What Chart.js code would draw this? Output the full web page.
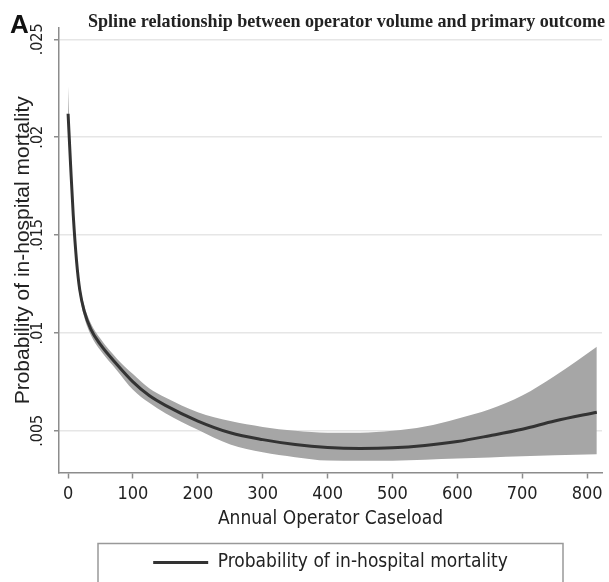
<!DOCTYPE html>
<html>
<head>
<meta charset="utf-8">
<script src="https://cdn.jsdelivr.net/npm/chart.js@4.4.1/dist/chart.umd.min.js"></script>
<style>
html, body { margin: 0; padding: 0; background: #fff; }
</style>
</head>
<body>
<canvas id="myChart" width="609" height="582"></canvas>
<script>
// spline fit
const caseload  = [0, 4, 8, 13, 18, 25, 35, 50, 75, 100, 125, 150, 200, 250, 300, 350, 400, 450, 500, 550, 600, 650, 700, 750, 815];
const mortality = [.0212, .0185, .0160, .0137, .0122, .0111, .0102, .0094, .0084, .0075, .0068, .0063, .0055, .0049, .00455, .0043, .00415, .0041, .00413, .00425, .00445, .00475, .00508, .0055, .00595];
const upperCI   = [.0226, .0192, .0165, .0141, .0125, .0114, .0105, .0097, .0087, .0079, .00717, .0067, .00595, .0055, .0052, .0050, .0049, .0049, .0050, .00522, .00562, .0061, .0068, .0078, .0093];
const lowerCI   = [.0203, .0179, .0156, .0133, .0119, .0108, .0099, .0091, .0081, .0071, .00643, .0059, .00505, .0043, .0039, .00365, .00348, .00347, .00347, .00352, .00358, .00364, .0037, .00375, .0038];
const xTicks = [0, 100, 200, 300, 400, 500, 600, 700, 800];
const yTicks = [.005, .01, .015, .02, .025];

const titleText = 'Spline relationship between operator volume and primary outcome';
const narrow = "'Liberation Sans Narrow', 'DejaVu Sans Condensed', 'Liberation Sans', sans-serif";

function pts(ys) {
    return caseload.map((x, i) => ({x: x, y: ys[i]}));
}

const decor = {
    id: 'decor',
    afterDraw(chart) {
        const ctx = chart.ctx;
        const lg = chart.legend;
        ctx.save();
        ctx.strokeStyle = '#999';
        ctx.lineWidth = 1.5;
        ctx.strokeRect(lg.left + 39, lg.top - 2, lg.width - 78, lg.height + 12);
        ctx.fillStyle = '#111';
        ctx.textBaseline = 'alphabetic';
        ctx.font = "bold 26px 'Liberation Sans', Arial, sans-serif";
        ctx.fillText('A', 10, 33);
        ctx.fillStyle = '#222';
        ctx.font = "bold 19px 'Liberation Serif', serif";
        ctx.textAlign = 'right';
        ctx.fillText(titleText, 605, 27, 517);
        ctx.restore();
    }
};

const ctx = document.getElementById('myChart').getContext('2d');
const myChart = new Chart(ctx, {
    type: 'line',
    data: {
        datasets: [{
            label: 'Probability of in-hospital mortality',
            data: pts(mortality),
            borderColor: '#333',
            backgroundColor: '#555',
            borderWidth: 3,
            pointRadius: 0,
            fill: false,
            cubicInterpolationMode: 'monotone'
        }, {
            label: 'upper',
            data: pts(upperCI),
            borderWidth: 0,
            borderColor: 'rgba(0,0,0,0)',
            backgroundColor: '#a6a6a6',
            pointRadius: 0,
            fill: '+1',
            cubicInterpolationMode: 'monotone'
        }, {
            label: 'lower',
            data: pts(lowerCI),
            borderWidth: 0,
            borderColor: 'rgba(0,0,0,0)',
            pointRadius: 0,
            fill: false,
            cubicInterpolationMode: 'monotone'
        }]
    },
    options: {
        responsive: false,
        animation: false,
        layout: {
            padding: {top: 28, right: 7, left: 0, bottom: 0}
        },
        plugins: {
            title: {display: false},
            tooltip: {enabled: false},
            legend: {
                position: 'bottom',
                fullSize: false,
                labels: {
                    filter: item => item.datasetIndex === 0,
                    usePointStyle: true,
                    pointStyle: 'line',
                    pointStyleWidth: 55,
                    padding: 7.5,
                    color: '#222',
                    font: {family: narrow, size: 19}
                }
            }
        },
        scales: {
            x: {
                type: 'linear',
                min: -14,
                max: 823,
                afterBuildTicks: s => { s.ticks = xTicks.map(v => ({value: v})); },
                afterFit: s => { s.height = 73; },
                border: {display: true, color: '#8c8c8c', width: 1.5},
                grid: {drawOnChartArea: false, drawTicks: true, tickLength: 6, tickColor: '#8c8c8c', tickWidth: 1.5},
                ticks: {
                    maxRotation: 0,
                    padding: 5,
                    color: '#222',
                    font: {family: narrow, size: 18}
                },
                title: {
                    display: true,
                    text: 'Annual Operator Caseload',
                    color: '#222',
                    font: {family: narrow, size: 19},
                    padding: {top: 0, bottom: 14.6}
                }
            },
            y: {
                min: 0.00287,
                max: 0.02558,
                afterBuildTicks: s => { s.ticks = yTicks.map(v => ({value: v})); },
                afterFit: s => { s.width = 59; },
                border: {display: true, color: '#8c8c8c', width: 1.5},
                grid: {color: '#e6e6e6', lineWidth: 1.5, drawTicks: true, tickLength: 5, tickColor: '#8c8c8c', tickWidth: 1.5},
                ticks: {
                    minRotation: 90,
                    maxRotation: 90,
                    crossAlign: 'center',
                    padding: 0,
                    color: '#222',
                    font: {family: narrow, size: 16},
                    callback: v => String(v).replace(/^0/, '')
                },
                title: {
                    display: true,
                    text: 'Probability of in-hospital mortality',
                    color: '#222',
                    font: {family: "'Liberation Sans', Arial, sans-serif", size: 21},
                    padding: {top: 10.4, bottom: 0}
                }
            }
        }
    },
    plugins: [decor]
});
</script>
</body>
</html>
